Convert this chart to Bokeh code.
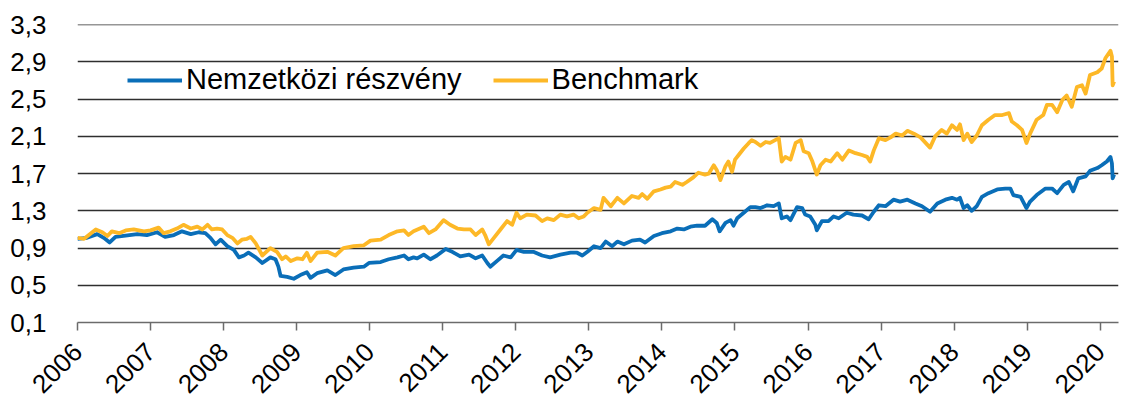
import math
from bokeh.plotting import figure
from bokeh.models import (FixedTicker, CustomJSTickFormatter, Legend, LegendItem, Range1d)
from bokeh.embed import file_html
from bokeh.resources import INLINE

# ---- data (decimal years, index values) ----
nemz_t = [2006.00, 2006.13, 2006.27, 2006.36, 2006.44, 2006.52, 2006.63, 2006.82, 2006.95,
          2007.09, 2007.20, 2007.32, 2007.43, 2007.55, 2007.66, 2007.75, 2007.82, 2007.89, 2007.96,
          2008.05, 2008.14, 2008.21, 2008.28, 2008.34, 2008.44, 2008.53, 2008.64, 2008.71, 2008.75,
          2008.78, 2008.87, 2008.96, 2009.05, 2009.14, 2009.19, 2009.28, 2009.42, 2009.53, 2009.64,
          2009.78, 2009.92, 2009.99, 2010.15, 2010.26, 2010.38, 2010.47, 2010.53, 2010.60, 2010.65,
          2010.74, 2010.83, 2010.92, 2011.04, 2011.13, 2011.24, 2011.36, 2011.45, 2011.54, 2011.61,
          2011.65, 2011.74, 2011.83, 2011.93, 2012.01, 2012.11, 2012.24, 2012.36, 2012.47, 2012.61,
          2012.75, 2012.84, 2012.91, 2012.98, 2013.07, 2013.16, 2013.23, 2013.32, 2013.39, 2013.48,
          2013.59, 2013.70, 2013.77, 2013.89, 2014.00, 2014.12, 2014.21, 2014.30, 2014.39, 2014.48,
          2014.59, 2014.69, 2014.75, 2014.79, 2014.87, 2014.94, 2014.98, 2015.03, 2015.12, 2015.21,
          2015.28, 2015.35, 2015.44, 2015.53, 2015.60, 2015.64, 2015.71, 2015.76, 2015.85, 2015.92,
          2015.96, 2016.03, 2016.10, 2016.12, 2016.19, 2016.28, 2016.35, 2016.42, 2016.53, 2016.62,
          2016.74, 2016.83, 2016.90, 2016.97, 2017.06, 2017.17, 2017.26, 2017.36, 2017.47, 2017.56,
          2017.67, 2017.77, 2017.88, 2017.97, 2018.04, 2018.08, 2018.13, 2018.18, 2018.24, 2018.31,
          2018.38, 2018.47, 2018.59, 2018.70, 2018.77, 2018.81, 2018.91, 2018.99, 2019.04, 2019.13,
          2019.25, 2019.34, 2019.41, 2019.50, 2019.57, 2019.63, 2019.70, 2019.80, 2019.86, 2019.96,
          2020.02, 2020.09, 2020.14, 2020.16, 2020.17, 2020.19]
nemz_v = [1.00, 1.01, 1.05, 1.01, 0.96, 1.02, 1.03, 1.05, 1.04,
          1.07, 1.02, 1.04, 1.08, 1.05, 1.07, 1.06, 1.01, 0.94, 0.99,
          0.92, 0.88, 0.80, 0.82, 0.85, 0.80, 0.74, 0.80, 0.78, 0.70,
          0.60, 0.59, 0.57, 0.61, 0.64, 0.58, 0.63, 0.66, 0.61, 0.67,
          0.69, 0.70, 0.74, 0.75, 0.78, 0.80, 0.82, 0.78, 0.80, 0.79,
          0.83, 0.78, 0.82, 0.89, 0.86, 0.81, 0.83, 0.79, 0.82, 0.74,
          0.70, 0.76, 0.82, 0.80, 0.88, 0.86, 0.86, 0.82, 0.80, 0.83,
          0.85, 0.85, 0.82, 0.86, 0.92, 0.90, 0.97, 0.92, 0.97, 0.94,
          0.98, 0.99, 0.96, 1.03, 1.06, 1.08, 1.11, 1.10, 1.13, 1.14,
          1.14, 1.21, 1.17, 1.08, 1.17, 1.20, 1.14, 1.22, 1.28, 1.34,
          1.34, 1.33, 1.36, 1.35, 1.38, 1.22, 1.24, 1.20, 1.34, 1.33,
          1.26, 1.24, 1.15, 1.09, 1.19, 1.19, 1.24, 1.22, 1.28, 1.26,
          1.25, 1.21, 1.29, 1.36, 1.35, 1.42, 1.40, 1.42, 1.38, 1.35,
          1.29, 1.38, 1.42, 1.44, 1.42, 1.44, 1.33, 1.36, 1.30, 1.35,
          1.45, 1.49, 1.53, 1.54, 1.54, 1.47, 1.45, 1.33, 1.40, 1.47,
          1.54, 1.54, 1.49, 1.58, 1.61, 1.51, 1.65, 1.67, 1.73, 1.76,
          1.79, 1.83, 1.88, 1.81, 1.65, 1.69]

bench_t = [2006.00, 2006.09, 2006.25, 2006.34, 2006.41, 2006.47, 2006.57, 2006.66, 2006.77, 2006.91,
           2007.00, 2007.11, 2007.18, 2007.27, 2007.36, 2007.45, 2007.55, 2007.64, 2007.71, 2007.78,
           2007.84, 2007.91, 2007.98, 2008.05, 2008.12, 2008.19, 2008.25, 2008.32, 2008.37, 2008.44,
           2008.53, 2008.64, 2008.73, 2008.80, 2008.85, 2008.92, 2009.01, 2009.08, 2009.14, 2009.19,
           2009.28, 2009.42, 2009.53, 2009.64, 2009.78, 2009.92, 2010.01, 2010.15, 2010.26, 2010.38,
           2010.47, 2010.53, 2010.60, 2010.74, 2010.81, 2010.90, 2011.01, 2011.10, 2011.20, 2011.29,
           2011.38, 2011.45, 2011.54, 2011.58, 2011.63, 2011.70, 2011.79, 2011.88, 2011.95, 2012.01,
           2012.06, 2012.15, 2012.27, 2012.36, 2012.43, 2012.52, 2012.61, 2012.70, 2012.79, 2012.86,
           2012.93, 2012.98, 2013.07, 2013.16, 2013.20, 2013.30, 2013.39, 2013.48, 2013.59, 2013.68,
           2013.73, 2013.80, 2013.89, 2013.98, 2014.05, 2014.12, 2014.18, 2014.28, 2014.34, 2014.43,
           2014.50, 2014.59, 2014.64, 2014.71, 2014.75, 2014.80, 2014.87, 2014.91, 2014.96, 2015.00,
           2015.05, 2015.12, 2015.19, 2015.23, 2015.28, 2015.35, 2015.42, 2015.48, 2015.55, 2015.60,
           2015.64, 2015.69, 2015.76, 2015.83, 2015.90, 2015.94, 2016.01, 2016.06, 2016.12, 2016.17,
           2016.24, 2016.31, 2016.40, 2016.47, 2016.56, 2016.65, 2016.74, 2016.81, 2016.85, 2016.90,
           2016.97, 2017.06, 2017.13, 2017.20, 2017.29, 2017.36, 2017.45, 2017.54, 2017.67, 2017.74,
           2017.83, 2017.90, 2017.97, 2018.04, 2018.08, 2018.13, 2018.18, 2018.24, 2018.31, 2018.38,
           2018.47, 2018.56, 2018.66, 2018.75, 2018.79, 2018.86, 2018.93, 2018.99, 2019.04, 2019.13,
           2019.22, 2019.27, 2019.34, 2019.41, 2019.48, 2019.54, 2019.61, 2019.68, 2019.75, 2019.80,
           2019.86, 2019.96, 2020.02, 2020.07, 2020.14, 2020.16, 2020.17, 2020.19]
bench_v = [1.01, 1.00, 1.10, 1.07, 1.03, 1.08, 1.06, 1.09, 1.10, 1.08,
           1.09, 1.12, 1.06, 1.08, 1.11, 1.15, 1.11, 1.13, 1.10, 1.15,
           1.10, 1.11, 1.10, 1.04, 1.01, 0.95, 0.99, 1.00, 1.02, 0.95,
           0.82, 0.90, 0.86, 0.78, 0.81, 0.76, 0.79, 0.78, 0.85, 0.76,
           0.85, 0.86, 0.82, 0.90, 0.92, 0.93, 0.98, 0.99, 1.04, 1.08,
           1.09, 1.04, 1.08, 1.13, 1.06, 1.10, 1.20, 1.15, 1.11, 1.10,
           1.10, 1.04, 1.10, 1.04, 0.94, 1.01, 1.10, 1.19, 1.15, 1.28,
           1.22, 1.26, 1.25, 1.19, 1.22, 1.20, 1.26, 1.24, 1.26, 1.22,
           1.24, 1.28, 1.33, 1.31, 1.44, 1.35, 1.44, 1.38, 1.46, 1.44,
           1.48, 1.43, 1.51, 1.53, 1.55, 1.56, 1.61, 1.58, 1.61, 1.66,
           1.71, 1.69, 1.70, 1.79, 1.74, 1.63, 1.78, 1.83, 1.72, 1.85,
           1.90, 1.97, 2.03, 2.06, 2.04, 2.00, 2.04, 2.03, 2.06, 2.08,
           1.83, 1.88, 1.85, 2.03, 2.06, 1.94, 1.92, 1.83, 1.69, 1.79,
           1.85, 1.83, 1.92, 1.85, 1.95, 1.92, 1.90, 1.88, 1.83, 1.95,
           2.08, 2.06, 2.09, 2.13, 2.11, 2.16, 2.13, 2.09, 1.98, 2.10,
           2.17, 2.13, 2.22, 2.17, 2.23, 2.06, 2.13, 2.04, 2.11, 2.22,
           2.28, 2.33, 2.33, 2.35, 2.26, 2.22, 2.17, 2.03, 2.13, 2.28,
           2.33, 2.44, 2.44, 2.36, 2.49, 2.54, 2.42, 2.63, 2.65, 2.56,
           2.76, 2.79, 2.83, 2.94, 3.02, 2.96, 2.65, 2.69]

series_names = ["Nemzetközi részvény", "Benchmark"]
y_ticks = [0.1, 0.5, 0.9, 1.3, 1.7, 2.1, 2.5, 2.9, 3.3]
x_ticks = list(range(2006, 2021))

FONT = "Liberation Sans"
BLUE = "#0A6EB8"
GOLD = "#FDB827"

p = figure(width=1120, height=404, output_backend="svg", toolbar_location=None,
           x_range=Range1d(2006, 2020.25), y_range=Range1d(0.1, 3.303),
           min_border_left=77, min_border_right=2, min_border_top=24, min_border_bottom=81)
p.outline_line_color = None
p.background_fill_color = "white"

r1 = p.line(nemz_t, nemz_v, line_color=BLUE, line_width=3.8, line_join="round")
r2 = p.line(bench_t, bench_v, line_color=GOLD, line_width=3.8, line_join="round")

# axes
p.xaxis.ticker = FixedTicker(ticks=x_ticks)
p.xaxis.major_label_orientation = math.pi / 4
p.xaxis.major_label_text_font = FONT
p.xaxis.major_label_text_font_size = "26px"
p.xaxis.major_label_text_color = "black"
p.xaxis.axis_line_color = "#6b6b6b"
p.xaxis.axis_line_width = 1.5
p.xaxis.major_tick_line_color = "#6b6b6b"
p.xaxis.major_tick_line_width = 1.5
p.xaxis.major_tick_out = 8
p.xaxis.major_tick_in = 0
p.xaxis.minor_tick_line_color = None
p.xaxis.major_label_standoff = 17

p.yaxis.ticker = FixedTicker(ticks=y_ticks)
p.yaxis.formatter = CustomJSTickFormatter(code="return tick.toFixed(1).replace('.', ',');")
p.yaxis.major_label_text_font = FONT
p.yaxis.major_label_text_font_size = "26px"
p.yaxis.major_label_text_color = "black"
p.yaxis.axis_line_color = None
p.yaxis.major_tick_line_color = None
p.yaxis.minor_tick_line_color = None
p.yaxis.major_label_standoff = 25

p.xgrid.visible = False
p.ygrid.grid_line_color = "#2e2e2e"
p.ygrid.grid_line_width = 1.6

legend = Legend(items=[LegendItem(label=series_names[0], renderers=[r1]),
                       LegendItem(label=series_names[1], renderers=[r2])],
                orientation="horizontal", location=(50, 226),
                label_text_font=FONT, label_text_font_size="29px", label_text_color="black",
                glyph_width=55, glyph_height=30, label_standoff=4, spacing=31,
                padding=0, margin=0, border_line_color=None, background_fill_alpha=0)
p.add_layout(legend)

open("out.html", "w").write(file_html(p, INLINE))
